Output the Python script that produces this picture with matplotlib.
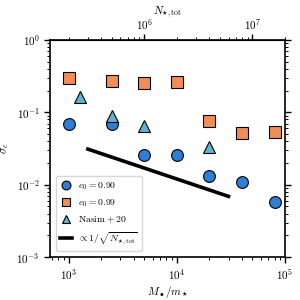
import numpy as np
import matplotlib
matplotlib.use("Agg")
import matplotlib.pyplot as plt
from matplotlib.ticker import FixedLocator, LogLocator

plt.rcParams['mathtext.fontset'] = 'cm'
plt.rcParams['font.family'] = 'serif'
plt.rcParams['font.serif'] = ['cmr10', 'DejaVu Serif']
plt.rcParams['axes.formatter.use_mathtext'] = True

# mass ratio M_bh / m_star
mass_ratio = [1000, 2500, 5000, 10000, 20000, 40000, 80000]
sigma_090 = [0.070, 0.070, 0.0255, 0.0255, 0.0132, 0.0108, 0.0057]
sigma_099 = [0.30, 0.27, 0.25, 0.26, 0.077, 0.051, 0.054]

nasim_x = [1265, 2500, 5000, 20000]
nasim_y = [0.163, 0.088, 0.065, 0.033]

# reference slope line, endpoints
ref_x = [1500, 30000]
ref_y = [0.031, 0.0069]

N_PER_MASS = 200  # N_tot = 200 * M/m

fig = plt.figure(figsize=(3, 3), dpi=100)
ax = fig.add_axes([0.167, 0.143, 0.783, 0.724])

ax.plot(mass_ratio, sigma_090, 'o', ms=8.5, mfc='#2f7ed6', mec='k', mew=0.8,
        ls='none', label=r'$e_0 = 0.90$', zorder=3)
ax.plot(mass_ratio, sigma_099, 's', ms=8.5, mfc='#f28e55', mec='k', mew=0.8,
        ls='none', label=r'$e_0 = 0.99$', zorder=3)
ax.plot(nasim_x, nasim_y, '^', ms=8.5, mfc='#5fb3cf', mec='k', mew=0.8,
        ls='none', label=r'$\mathrm{Nasim+20}$', zorder=3)
ax.plot(ref_x, ref_y, 'k-', lw=2.6, label=r'$\propto 1/\sqrt{N_{\star,\rm tot}}$')

ax.set_xscale('log')
ax.set_yscale('log')
ax.set_xlim(670, 1e5)
ax.set_ylim(1e-3, 1)
ax.set_xlabel(r'$M_\bullet/m_\star$', fontsize=8, labelpad=1)
ax.set_ylabel(r'$\sigma_e$', fontsize=8)

ax.tick_params(which='both', direction='out', labelsize=8, right=True)
ax.tick_params(which='major', length=4, width=1)
ax.tick_params(which='minor', length=2.2, width=0.7)
for s in ax.spines.values():
    s.set_linewidth(1.2)

sec = ax.secondary_xaxis('top', functions=(lambda m: m * N_PER_MASS,
                                           lambda n: n / N_PER_MASS))
sec.xaxis.set_major_locator(FixedLocator([1e6, 1e7]))
sec.xaxis.set_minor_locator(LogLocator(base=10, subs=np.arange(2, 10)))
sec.set_xlabel(r'$N_{\star,\rm tot}$', fontsize=8, labelpad=2)
sec.tick_params(which='both', direction='out', labelsize=8, pad=2)
sec.tick_params(which='major', length=4, width=1)
sec.tick_params(which='minor', length=2.2, width=0.7)

leg = ax.legend(loc='lower left', fontsize=7, frameon=True, handlelength=1.2,
                borderpad=0.45, labelspacing=0.55, handletextpad=0.6,
                markerscale=0.75, borderaxespad=0.6)
leg.get_frame().set_edgecolor('#cccccc')

fig.savefig('out.png', dpi=100)
